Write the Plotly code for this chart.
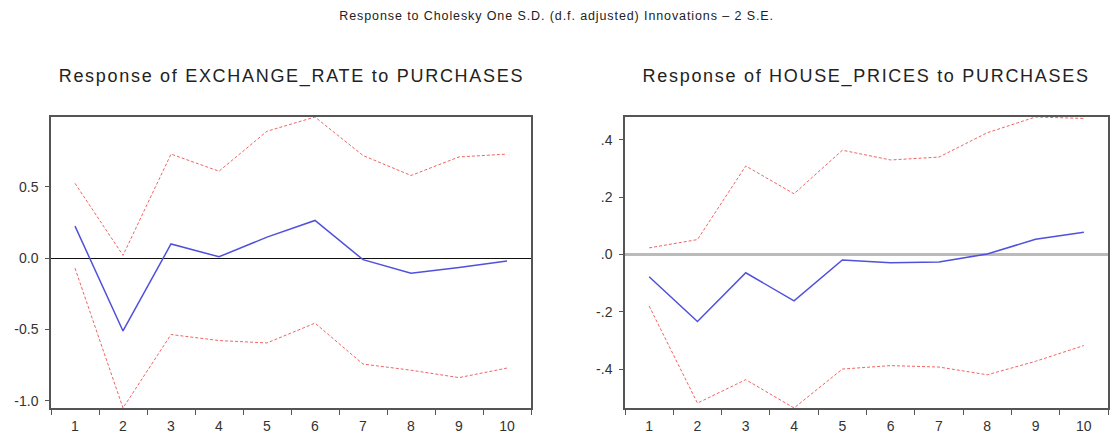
import plotly.graph_objects as go

# Impulse-response horizons
periods = [1, 2, 3, 4, 5, 6, 7, 8, 9, 10]

# Response of EXCHANGE_RATE to PURCHASES
er_response = [0.225, -0.51, 0.10, 0.01, 0.148, 0.265, -0.01, -0.105, -0.065, -0.02]
er_upper = [0.525, 0.02, 0.73, 0.61, 0.89, 0.99, 0.72, 0.58, 0.71, 0.73]
er_lower = [-0.07, -1.05, -0.535, -0.577, -0.594, -0.455, -0.742, -0.785, -0.837, -0.77]

# Response of HOUSE_PRICES to PURCHASES
hp_response = [-0.078, -0.234, -0.064, -0.162, -0.019, -0.029, -0.026, 0.002, 0.053, 0.078]
hp_upper = [0.023, 0.052, 0.309, 0.212, 0.364, 0.33, 0.34, 0.425, 0.48, 0.475]
hp_lower = [-0.18, -0.519, -0.437, -0.536, -0.40, -0.388, -0.393, -0.42, -0.373, -0.318]

# Tick labels
x_ticklabels = [str(p) for p in periods]
er_tickvals = [-1.0, -0.5, 0.0, 0.5]
er_ticktext = ["-1.0", "-0.5", "0.0", "0.5"]
hp_tickvals = [-0.4, -0.2, 0.0, 0.2, 0.4]
hp_ticktext = ["-.4", "-.2", ".0", ".2", ".4"]

main_title = "Response to Cholesky One S.D. (d.f. adjusted) Innovations \u2013 2 S.E."
er_title = "Response of EXCHANGE_RATE to PURCHASES"
hp_title = "Response of HOUSE_PRICES to PURCHASES"

FONT = "Liberation Sans, Arial, sans-serif"
BLUE = "#5050dc"
RED = "#f06464"

fig = go.Figure()

panels = [
    ("x", "y", er_response, er_upper, er_lower),
    ("x2", "y2", hp_response, hp_upper, hp_lower),
]
for xa, ya, resp, up, lo in panels:
    for band in (up, lo):
        fig.add_trace(go.Scatter(x=periods, y=band, xaxis=xa, yaxis=ya, mode="lines",
                                 line=dict(color=RED, width=1, dash="3px,2px"),
                                 showlegend=False, hoverinfo="skip"))
    fig.add_trace(go.Scatter(x=periods, y=resp, xaxis=xa, yaxis=ya, mode="lines",
                             line=dict(color=BLUE, width=1.5), showlegend=False))

boundaries = [p - 0.5 for p in periods] + [periods[-1] + 0.5]

def x_axis(domain, anchor):
    return dict(
        domain=domain, anchor=anchor, range=[0.5, 10.5],
        tickvals=periods, ticktext=x_ticklabels, ticks="",
        minor=dict(tickvals=boundaries, ticks="outside", ticklen=5,
                   tickcolor="#555", tickwidth=1, showgrid=False),
        showgrid=False, zeroline=False, showline=True, mirror=True,
        linecolor="#555", linewidth=1.5, ticklabelstandoff=4,
        tickfont=dict(family=FONT, size=14, color="#333"),
        fixedrange=True,
    )

def y_axis(domain, anchor, lo, hi, vals, text, zcolor, zwidth):
    return dict(
        domain=domain, anchor=anchor, range=[lo, hi],
        tickvals=vals, ticktext=text, ticks="outside", ticklen=4,
        tickcolor="#555", tickwidth=1, ticklabelstandoff=4,
        showgrid=False, zeroline=True, zerolinecolor=zcolor, zerolinewidth=zwidth,
        showline=True, mirror=True, linecolor="#555", linewidth=1.5,
        tickfont=dict(family=FONT, size=14, color="#333"),
        fixedrange=True,
    )

W, H = 1113, 441
ydom = [1 - 408 / H, 1 - 117 / H]

fig.update_layout(
    width=W, height=H,
    margin=dict(l=0, r=0, t=0, b=0),
    paper_bgcolor="white", plot_bgcolor="white",
    xaxis=x_axis([51 / W, 531 / W], "y"),
    yaxis=y_axis(ydom, "x", min(er_lower), max(er_upper),
                 er_tickvals, er_ticktext, "#111", 1),
    xaxis2=x_axis([625 / W, 1108 / W], "y2"),
    yaxis2=y_axis(ydom, "x2", min(hp_lower), max(hp_upper),
                  hp_tickvals, hp_ticktext, "#bbbbbb", 3),
    annotations=[
        dict(text=main_title, x=556 / W, y=1 - 16 / H, xref="paper", yref="paper",
             showarrow=False, xanchor="center", yanchor="middle",
             font=dict(family=FONT, size=12.5, color="#222")),
        dict(text=er_title, x=291 / W, y=1 - 76 / H, xref="paper", yref="paper",
             showarrow=False, xanchor="center", yanchor="middle",
             font=dict(family=FONT, size=18, color="#222")),
        dict(text=hp_title, x=866 / W, y=1 - 76 / H, xref="paper", yref="paper",
             showarrow=False, xanchor="center", yanchor="middle",
             font=dict(family=FONT, size=18, color="#222")),
    ],
)

# Widen the tracking of the heading texts once the plot is drawn
spacing_js = """
var gd = document.getElementById('{plot_id}');
function track() {
  gd.querySelectorAll('text.annotation-text').forEach(function (t) {
    var s = t.textContent.indexOf('Cholesky') >= 0 ? '0.9px' : '1.7px';
    t.style.letterSpacing = s;
  });
}
track();
gd.on('plotly_afterplot', track);
"""

fig.write_html("out.html", config={"displayModeBar": False}, post_script=spacing_js)
